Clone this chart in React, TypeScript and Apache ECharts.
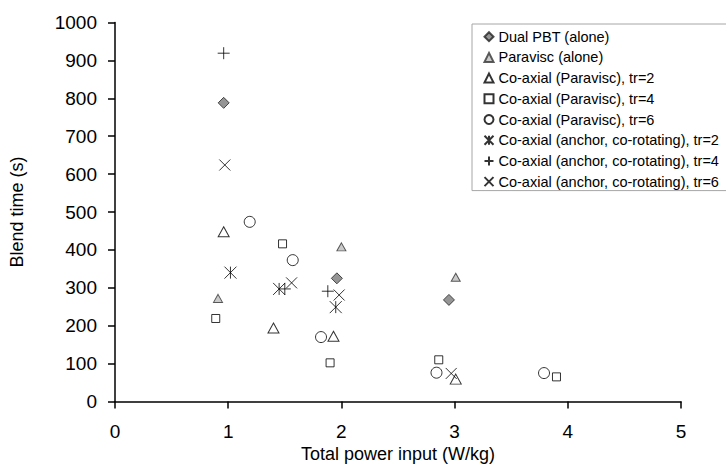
import React, { useEffect, useRef } from "react";
import * as echarts from "echarts";

const seriesNames = [
  "Dual PBT (alone)",
  "Paravisc (alone)",
  "Co-axial (Paravisc), tr=2",
  "Co-axial (Paravisc), tr=4",
  "Co-axial (Paravisc), tr=6",
  "Co-axial (anchor, co-rotating), tr=2",
  "Co-axial (anchor, co-rotating), tr=4",
  "Co-axial (anchor, co-rotating), tr=6",
];

const dualPbt: number[][] = [[0.96, 788], [1.96, 325], [2.95, 268]];
const paraviscAlone: number[][] = [[0.91, 272], [2.0, 408], [3.01, 328]];
const paraviscTr2: number[][] = [[0.96, 448], [1.4, 194], [1.93, 172], [3.01, 59]];
const paraviscTr4: number[][] = [[0.89, 219], [1.48, 416], [1.9, 102], [2.86, 110], [3.9, 65]];
const paraviscTr6: number[][] = [[1.19, 474], [1.57, 373], [1.82, 170], [2.84, 76], [3.79, 75]];
const anchorTr2: number[][] = [[1.02, 340], [1.45, 297], [1.95, 249]];
const anchorTr4: number[][] = [[0.96, 919], [1.5, 297], [1.88, 291]];
const anchorTr6: number[][] = [[0.97, 624], [1.56, 313], [1.98, 281], [2.97, 74]];

const xTicks = { min: 0, max: 5, interval: 1 };
const yTicks = { min: 0, max: 1000, interval: 100 };

const FONT = "'Liberation Sans', Arial, sans-serif";

const ASTERISK = "path://M0,0 L10,10 M10,0 L0,10 M5,0 L5,10";
const PLUS = "path://M5,0 L5,10 M0,5 L10,5";
const CROSS = "path://M0,0 L10,10 M10,0 L0,10";

export default function App() {
  const ref = useRef<HTMLDivElement>(null);
  useEffect(() => {
    if (!ref.current) return;
    const chart = echarts.init(ref.current, undefined, { renderer: "svg" });
    const open = { color: "#ffffff", borderColor: "#000000", borderWidth: 1 };
    const strokeOnly = { color: "rgba(0,0,0,0)", borderColor: "#000000", borderWidth: 1 };
    const datasets = [dualPbt, paraviscAlone, paraviscTr2, paraviscTr4, paraviscTr6, anchorTr2, anchorTr4, anchorTr6];
    const symbols: any[] = ["diamond", "triangle", "triangle", "rect", "circle", ASTERISK, PLUS, CROSS];
    const sizes: any[] = [[11, 11], [9, 8], [11, 10], [8, 8], [11, 11], [12, 12], [12, 12], [11, 11]];
    const styles: any[] = [
      { color: "#7a7a7a", borderColor: "#222222", borderWidth: 1 },
      { color: "#bdbdbd", borderColor: "#333333", borderWidth: 1 },
      open,
      open,
      open,
      strokeOnly,
      strokeOnly,
      strokeOnly,
    ];
    const series = seriesNames.map((name, i) => ({
      name,
      type: "scatter",
      data: datasets[i],
      symbol: symbols[i],
      symbolSize: sizes[i],
      itemStyle: styles[i],
      emphasis: { disabled: true },
      z: 3,
    }));
    chart.setOption({
      animation: false,
      backgroundColor: "#ffffff",
      textStyle: { fontFamily: FONT },
      grid: { left: 115, right: 45, top: 22.5, bottom: 62.5, outerBoundsMode: "none" },
      legend: {
        orient: "vertical",
        left: 472,
        top: 24,
        data: seriesNames,
        itemWidth: 9,
        itemHeight: 9,
        itemGap: 4.7,
        padding: [4.7, 40, 1, 11.5],
        borderColor: "#a6a6a6",
        borderWidth: 1,
        backgroundColor: "#ffffff",
        textStyle: { fontFamily: FONT, fontSize: 14.5, lineHeight: 16, color: "#000000" },
        selectedMode: false,
      },
      xAxis: {
        type: "value",
        min: xTicks.min,
        max: xTicks.max,
        interval: xTicks.interval,
        name: "Total power input (W/kg)",
        nameLocation: "middle",
        nameGap: 41,
        nameTextStyle: { fontFamily: FONT, fontSize: 18, color: "#000000", lineHeight: 18, verticalAlign: "middle" },
        axisLine: { show: true, onZero: false, lineStyle: { color: "#000000", width: 1.5 } },
        axisTick: { show: true, inside: false, length: 7, lineStyle: { color: "#000000", width: 1.5 } },
        axisLabel: { margin: 20, fontFamily: FONT, fontSize: 19, color: "#000000", formatter: (v: number) => String(v) },
        splitLine: { show: false },
      },
      yAxis: {
        type: "value",
        min: yTicks.min,
        max: yTicks.max,
        interval: yTicks.interval,
        name: "Blend time (s)",
        nameLocation: "middle",
        nameGap: 89,
        nameTextStyle: { fontFamily: FONT, fontSize: 18, color: "#000000" },
        axisLine: { show: true, onZero: false, lineStyle: { color: "#000000", width: 1.5 } },
        axisTick: { show: true, inside: false, length: 7, lineStyle: { color: "#000000", width: 1.5 } },
        axisLabel: { margin: 18, fontFamily: FONT, fontSize: 19, color: "#000000", formatter: (v: number) => String(v) },
        splitLine: { show: false },
      },
      series,
    });
    return () => chart.dispose();
  }, []);
  return (
    <div
      ref={ref}
      style={{ position: "fixed", left: 0, top: 0, width: 726, height: 464 }}
    />
  );
}
